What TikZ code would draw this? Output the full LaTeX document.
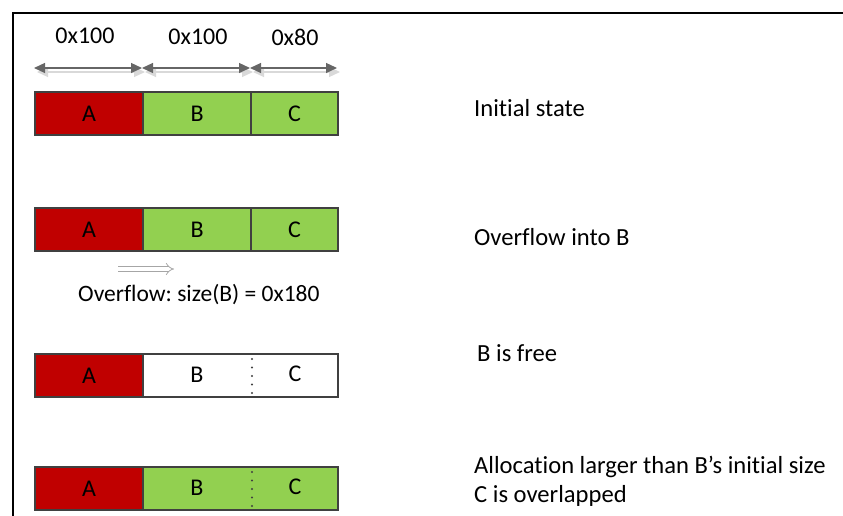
\documentclass[tikz,border=0pt]{standalone}
\usepackage{fontspec}
\setmainfont{Carlito}[Ligatures=NoCommon]
\usetikzlibrary{arrows.meta}
\definecolor{cred}{HTML}{C00000}
\definecolor{cgreen}{HTML}{92D050}
\definecolor{cedge}{HTML}{404040}
\begin{document}
\frenchspacing
\begin{tikzpicture}[x=1pt,y=-1pt,
  every node/.style={font=\fontsize{24}{28}\selectfont},
  cell/.style={draw=cedge, line width=2.2pt, minimum height=43pt, inner sep=0pt, anchor=north west},
  lbl/.style={inner sep=0pt},
  desc/.style={inner sep=0pt, anchor=west, font=\fontsize{24.6}{28}\selectfont},
  dimarrow/.style={{Triangle[length=11pt,width=10pt]}-{Triangle[length=11pt,width=10pt]}, line width=1.2pt, draw=gray!80!black, fill=cedge},
  dimshadow/.style={{Triangle[length=11pt,width=10pt]}-{Triangle[length=11pt,width=10pt]}, line width=1.2pt, draw=gray!30, fill=gray!30},
  dotline/.style={line width=2.4pt, line cap=round, dash pattern=on 0pt off 8.5pt, draw=cedge}]
\useasboundingbox (0,0) rectangle (843,516);
\draw[line width=2.3pt] (13,516) -- (13,13) -- (843,13);

% dimension arrows
\coordinate (d0) at (34,68); \coordinate (d1) at (142,68);
\coordinate (d2) at (250,68); \coordinate (d3) at (337,68);
\coordinate (s0) at (37,72); \coordinate (s1) at (145,72);
\coordinate (s2) at (253,72); \coordinate (s3) at (340,72);
\draw[dimshadow] (s0) -- (s1);
\draw[dimshadow] (s1) -- (s2);
\draw[dimshadow] (s2) -- (s3);
\draw[dimarrow] (d0) -- (d1);
\draw[dimarrow] (d1) -- (d2);
\draw[dimarrow] (d2) -- (d3);
\node[lbl] (l1) at (85,36) {0x100};
\node[lbl] (l2) at (198,37) {0x100};
\node[lbl] (l3) at (295,37) {0x80};

% row 1
\node[cell, fill=cred, minimum width=108pt] (a1) at (34,91) {};
\node[cell, fill=cgreen, minimum width=108pt] (b1) at (142,91) {};
\node[cell, fill=cgreen, minimum width=87pt] (c1) at (250,91) {};
\node[lbl] at (a1.center) {A};
\node[lbl] at (b1.center) {B};
\node[lbl] at (c1.center) {C};
\node[desc] (t1) at (474,108) {Initial state};

% row 2
\node[cell, fill=cred, minimum width=108pt] (a2) at (34,207) {};
\node[cell, fill=cgreen, minimum width=108pt] (b2) at (142,207) {};
\node[cell, fill=cgreen, minimum width=87pt] (c2) at (250,207) {};
\node[lbl] at (a2.center) {A};
\node[lbl] at (b2.center) {B};
\node[lbl] at (c2.center) {C};
\node[desc] (t2) at (474,237) {Overflow into B};
\coordinate (o1) at (118,269); \coordinate (o2) at (174,269);
\draw[double=white, double distance=3.5pt, line width=0.8pt, draw=gray!70, -{Implies[length=6pt]}] (o1) -- (o2);
\node[desc, font=\fontsize{23.5}{27}\selectfont] (ov) at (78,295) {Overflow: size(B) = 0x180};

% row 3
\node[cell, fill=white, minimum width=195pt] (bc3) at (142,353) {};
\node[cell, fill=cred, minimum width=108pt] (a3) at (34,353) {};
\node[lbl] at (a3.center) {A};
\node[lbl] (b3) at (197,375) {B};
\node[lbl] (c3) at (295,374) {C};
\coordinate (p3t) at (252,359); \coordinate (p3b) at (252,394);
\draw[dotline] (p3t) -- (p3b);
\node[desc] (t3) at (477,353) {B is free};

% row 4
\node[cell, fill=cgreen, minimum width=195pt] (bc4) at (142,466) {};
\node[cell, fill=cred, minimum width=108pt] (a4) at (34,466) {};
\node[lbl] at (a4.center) {A};
\node[lbl] (b4) at (197,488) {B};
\node[lbl] (c4) at (295,487) {C};
\coordinate (p4t) at (252,472); \coordinate (p4b) at (252,507);
\draw[dotline] (p4t) -- (p4b);
\node[desc] (t4) at (474,467) {Allocation larger than B’s initial size};
\node[desc] (t5) at (474,496) {C is overlapped};
\end{tikzpicture}
\end{document}
